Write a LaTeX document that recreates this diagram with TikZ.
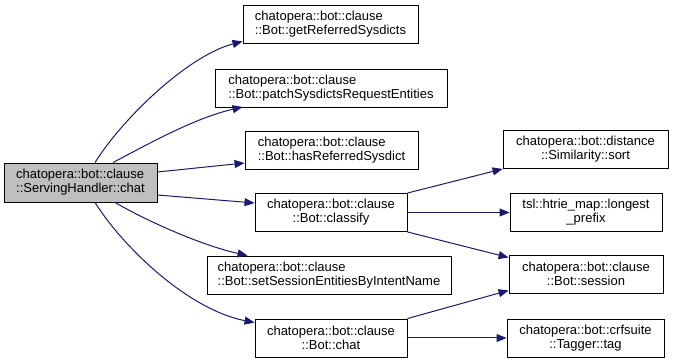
\documentclass[tikz,border=0pt]{standalone}
\usepackage{fontspec}
\setmainfont{Liberation Sans}
\usetikzlibrary{arrows.meta}
\definecolor{edgeblue}{RGB}{25,25,112}
\definecolor{rootgray}{RGB}{191,191,191}
\begin{document}
\begin{tikzpicture}[x=1pt,y=-1pt,
  box/.style={draw=black, line width=0.9pt, fill=white, inner sep=0pt,
    minimum height=38pt, font=\fontsize{13}{14}\selectfont},
  lbox/.style={box, align=left},
  cbox/.style={box, align=center},
  edge/.style={draw=edgeblue, line width=1pt,
    -{Triangle[length=10pt,width=8pt]}}]
\useasboundingbox (0,0) rectangle (673,363);

% caller
\node[lbox, fill=rootgray, minimum width=153pt, minimum height=39pt] (root) at (80.5,182.5)
  {chatopera::bot::clause\\::ServingHandler::chat};

% direct callees
\node[lbox, minimum width=175pt] (getref) at (330.5,24)
  {chatopera::bot::clause\\::Bot::getReferredSysdicts};
\node[lbox, minimum width=232pt] (patch) at (331,88.5)
  {chatopera::bot::clause\\::Bot::patchSysdictsRequestEntities};
\node[lbox, minimum width=173pt] (hasref) at (331.5,150.5)
  {chatopera::bot::clause\\::Bot::hasReferredSysdict};
\node[cbox, minimum width=152pt] (classify) at (331,212.5)
  {chatopera::bot::clause\\::Bot::classify};
\node[lbox, minimum width=244pt] (setsess) at (329,275)
  {chatopera::bot::clause\\::Bot::setSessionEntitiesByIntentName};
\node[cbox, minimum width=152pt] (botchat) at (331,338)
  {chatopera::bot::clause\\::Bot::chat};

% second level
\node[cbox, minimum width=165pt] (sort) at (585.5,149.5)
  {chatopera::bot::distance\\::Similarity::sort};
\node[cbox, minimum width=152pt] (longest) at (586,212.5)
  {tsl::htrie\_map::longest\\\_prefix};
\node[cbox, minimum width=154pt] (session) at (586,274)
  {chatopera::bot::clause\\::Bot::session};
\node[cbox, minimum width=157pt] (tag) at (585.5,338)
  {chatopera::bot::crfsuite\\::Tagger::tag};

% calls from the caller
\draw[edge] ([xshift=14.5pt]root.north) .. controls (125,115) and (190,55) .. ([yshift=2pt]getref.south west);
\draw[edge] ([xshift=32.5pt]root.north) .. controls (150,143) and (195,118) .. ([xshift=28pt,yshift=1pt]patch.south west);
\draw[edge] ([yshift=10.5pt]root.east) -- ([yshift=-12.5pt]hasref.west);
\draw[edge] ([yshift=-12.5pt]root.east) -- ([yshift=9.5pt]classify.west);
\draw[edge] ([xshift=34.5pt]root.south) .. controls (145,220) and (200,245) .. ([xshift=41pt]setsess.north west);
\draw[edge] ([xshift=14.5pt]root.south) .. controls (125,250) and (190,310) .. ([yshift=-4pt]botchat.north west);

% calls from classify and chat
\draw[edge] (classify.north east) -- (sort.south west);
\draw[edge] (classify.east) -- (longest.west);
\draw[edge] (classify.south east) -- ([yshift=-3pt]session.north west);
\draw[edge] (botchat.north east) -- ([yshift=3pt]session.south west);
\draw[edge] (botchat.east) -- (tag.west);
\end{tikzpicture}
\end{document}
